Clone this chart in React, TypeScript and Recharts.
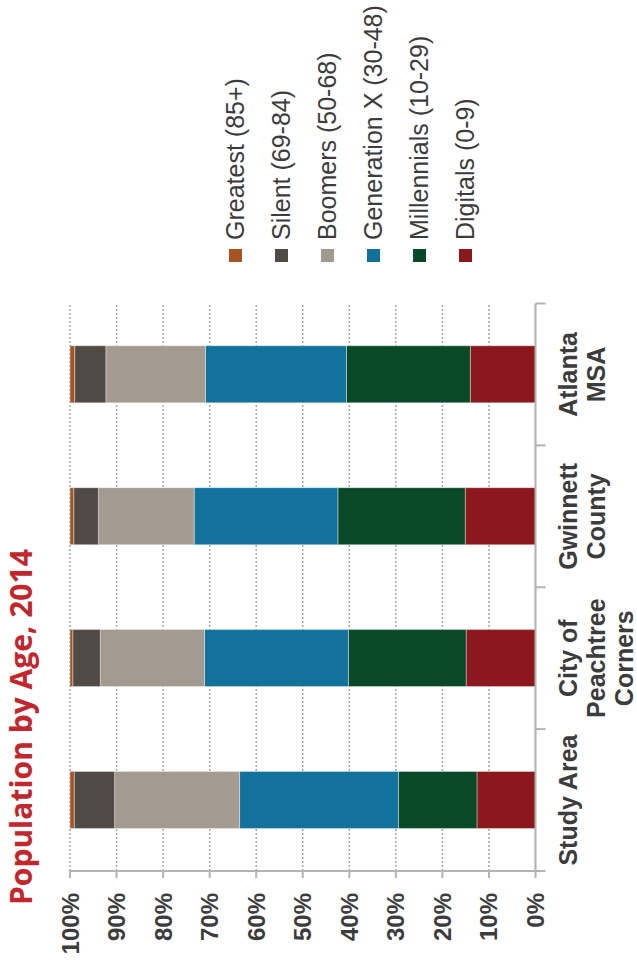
import React from 'react';
import { BarChart, Bar, XAxis, YAxis, CartesianGrid, Legend } from 'recharts';

// categories, left to right before the chart is turned on its side
const categories = ['Study Area', 'City of Peachtree Corners', 'Gwinnett County', 'Atlanta MSA'];
const categoryLines = [['Study Area'], ['City of', 'Peachtree', 'Corners'], ['Gwinnett', 'County'], ['Atlanta', 'MSA']];

// share of population (%)
const digitals = [12.6, 14.9, 15.1, 14.0];
const millennials = [16.9, 25.3, 27.4, 26.6];
const genX = [34.2, 30.9, 30.9, 30.3];
const boomers = [26.9, 22.4, 20.6, 21.4];
const silent = [8.7, 5.9, 5.3, 6.7];
const greatest = [0.9, 0.6, 0.8, 1.0];

const valueTicks = [0, 0.1, 0.2, 0.3, 0.4, 0.5, 0.6, 0.7, 0.8, 0.9, 1];

const series = [
  { key: 'digitals', name: 'Digitals (0-9)', color: '#8a181d', values: digitals },
  { key: 'millennials', name: 'Millennials (10-29)', color: '#0a4928', values: millennials },
  { key: 'genX', name: 'Generation X (30-48)', color: '#13729c', values: genX },
  { key: 'boomers', name: 'Boomers (50-68)', color: '#a39a90', values: boomers },
  { key: 'silent', name: 'Silent (69-84)', color: '#504a45', values: silent },
  { key: 'greatest', name: 'Greatest (85+)', color: '#a65424', values: greatest },
];

const chartData = categories.map((name, i) => {
  const row: any = { name };
  series.forEach((s) => { row[s.key] = s.values[i]; });
  return row;
});

const W = 969;
const H = 637;
const axisGray = '#b3b3b3';
const textColor = '#3c3c3c';
const font = '"Liberation Sans", Arial, sans-serif';

function CategoryTick(props: any) {
  const { x, y, payload } = props;
  const idx = categories.indexOf(payload.value);
  const half = payload.offset ? payload.offset : 70.9;
  const lines = categoryLines[idx] || [String(payload.value)];
  return (
    <g>
      <line x1={x - half} y1={y} x2={x - half} y2={y + 10} stroke={axisGray} strokeWidth={2} />
      {idx === categories.length - 1 && (
        <line x1={x + half} y1={y} x2={x + half} y2={y + 10} stroke={axisGray} strokeWidth={2} />
      )}
      <text x={x} y={y + 41} textAnchor="middle" fill={textColor} fontSize={25} fontWeight="bold" fontFamily={font}>
        {lines.map((l, i) => (
          <tspan key={i} x={x} dy={i === 0 ? 0 : 28}>{l}</tspan>
        ))}
      </text>
    </g>
  );
}

// legend keeps the series order, top of the stack first
function renderLegend(props: any) {
  const payload = props.payload || [];
  const items = [...series].reverse().map((s) => {
    const p = payload.find((e: any) => e.dataKey === s.key);
    return { value: s.name, color: p ? p.color : s.color };
  });
  return (
    <div style={{ fontFamily: font, fontSize: 25, color: textColor }}>
      {items.map((item) => (
        <div key={item.value} style={{ height: 46, display: 'flex', alignItems: 'center', whiteSpace: 'nowrap' }}>
          <span style={{ width: 13, height: 13, background: item.color, display: 'inline-block', marginRight: 9 }} />
          <span>{item.value}</span>
        </div>
      ))}
    </div>
  );
}

export default function App() {
  return (
    <div style={{ position: 'fixed', left: 0, top: 0, width: H, height: W, overflow: 'hidden', background: '#fff' }}>
      <div
        style={{
          position: 'absolute',
          left: 0,
          top: 0,
          width: W,
          height: H,
          transformOrigin: '0 0',
          transform: `translate(0px, ${W}px) rotate(-90deg)`,
        }}
      >
        <BarChart
          width={W}
          height={H}
          data={chartData}
          stackOffset="expand"
          barCategoryGap="30%"
          margin={{ top: 70, right: 303.5, bottom: 0, left: 0 }}
        >
          <CartesianGrid vertical={false} stroke="#a6a6a6" strokeDasharray="2 2" strokeWidth={1.5} />
          <XAxis
            dataKey="name"
            height={101.5}
            interval={0}
            tickSize={0}
            tickMargin={0}
            tickLine={false}
            axisLine={{ stroke: axisGray, strokeWidth: 2 }}
            tick={<CategoryTick />}
          />
          <YAxis
            type="number"
            domain={[0, 1]}
            ticks={valueTicks}
            width={98}
            tickSize={7}
            tickMargin={15}
            axisLine={{ stroke: axisGray, strokeWidth: 2 }}
            tickLine={{ stroke: axisGray, strokeWidth: 2 }}
            tick={{ fill: textColor, fontSize: 24, fontWeight: 'bold', fontFamily: font }}
            tickFormatter={(v: number) => `${Math.round(v * 100)}%`}
          />
          <Legend
            layout="vertical"
            align="center"
            verticalAlign="middle"
            wrapperStyle={{ left: 707, top: 212, width: 262 }}
            content={renderLegend}
          />
          {series.map((s) => (
            <Bar
              key={s.key}
              dataKey={s.key}
              name={s.name}
              stackId="a"
              fill={s.color}
              stroke="#ffffff"
              strokeOpacity={0.45}
              strokeWidth={0.8}
              isAnimationActive={false}
            />
          ))}
        </BarChart>
        <svg width={W} height={60} style={{ position: 'absolute', left: 0, top: 0, pointerEvents: 'none' }}>
          <text x={64} y={31.5} fill="#c1272d" fontSize={30} fontWeight="bold" fontFamily='"Open Sans", sans-serif'>
            Population by Age, 2014
          </text>
        </svg>
      </div>
    </div>
  );
}
